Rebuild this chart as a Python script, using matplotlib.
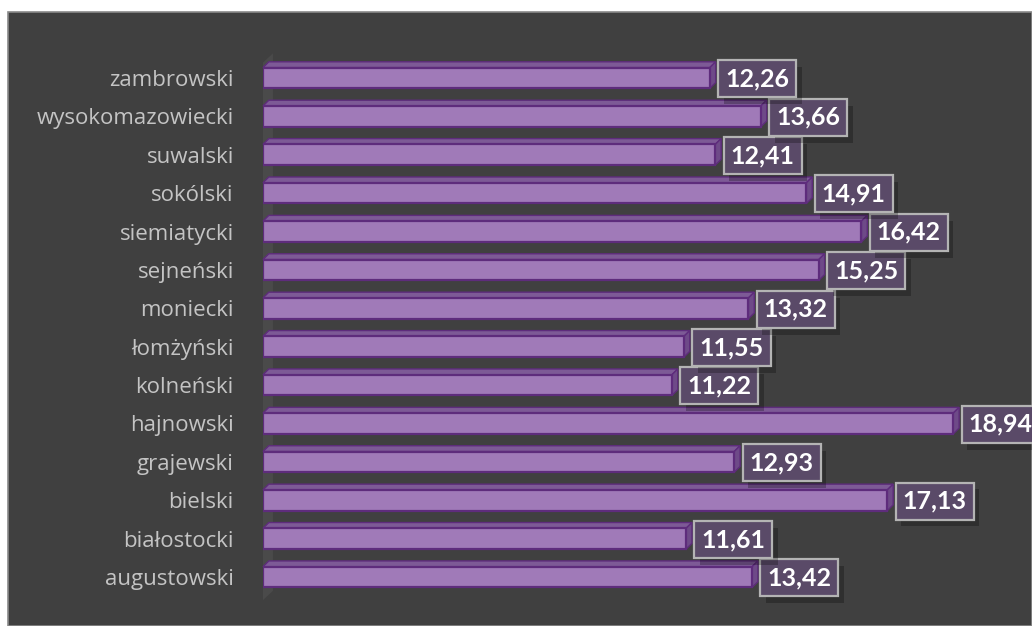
import matplotlib
matplotlib.use("Agg")
import matplotlib.pyplot as plt
from matplotlib.patches import Rectangle, Polygon
import matplotlib.patheffects as pe
import numpy as np

# data (bottom -> top as drawn)
powiaty = ['augustowski', 'białostocki', 'bielski', 'grajewski', 'hajnowski',
           'kolneński', 'łomżyński', 'moniecki', 'sejneński', 'siemiatycki',
           'sokólski', 'suwalski', 'wysokomazowiecki', 'zambrowski']
wartosci = [13.42, 11.61, 17.13, 12.93, 18.94, 11.22, 11.55, 13.32, 15.25, 16.42,
            14.91, 12.41, 13.66, 12.26]

BG = '#404040'
FRONT = '#a07ab8'
EDGE = '#5e2c7c'
TOP = '#7d5a96'
SIDE = '#6e4a88'

fig = plt.figure(figsize=(10.32, 6.26), dpi=100, facecolor='white')
fig.patches.append(Rectangle((8/1032, 0), 1 - 8/1032, (626-12)/626, transform=fig.transFigure,
                             facecolor=BG, edgecolor='#8a8a8a', lw=1.2, zorder=-5))

ax = fig.add_axes([263/1032, 0.023, 1 - 263/1032, 0.9077])
ax.set_facecolor('none')
ax.set_xlim(0, 21.1)
ax.set_ylim(-0.9, 13.9)

y = np.arange(len(powiaty))
h = 0.54
dx, dy = 0.16, 0.15

# back wall strip
ax.add_patch(Polygon([(0, -0.6), (0, 13.4), (dx*1.7, 13.4 + dy*1.6), (dx*1.7, -0.6 + dy*1.6)],
                     closed=True, facecolor='#4a4a4a', edgecolor='none', zorder=1, clip_on=False))

ax.barh(y, wartosci, height=h, color=FRONT, edgecolor=EDGE, linewidth=1.6, zorder=3)
for yi, v in zip(y, wartosci):
    t = yi + h/2
    ax.add_patch(Polygon([(0, t), (v, t), (v + dx, t + dy), (dx, t + dy)], closed=True,
                         facecolor=TOP, edgecolor=EDGE, lw=1.0, zorder=2, clip_on=False))
    ax.add_patch(Polygon([(v, t), (v + dx, t + dy), (v + dx, t + dy - h), (v, t - h)], closed=True,
                         facecolor=SIDE, edgecolor=EDGE, lw=1.0, zorder=2, clip_on=False))
    txt = ('%.2f' % v).replace('.', ',')
    lab = ax.text(v + 0.42, yi - 0.02, txt, ha='left', va='center', color='white', fontsize=18,
                  fontweight='bold', family='Lato', zorder=5, clip_on=False,
                  bbox=dict(boxstyle='square,pad=0.28', facecolor='#5a4a68', edgecolor='#b4b4b4', lw=1.6))
    lab.get_bbox_patch().set_path_effects([
        pe.SimplePatchShadow(offset=(4, -5), shadow_rgbFace='black', alpha=0.25), pe.Normal()])

ax.set_yticks(y)
ax.set_yticklabels(powiaty, fontsize=16, color='#c4c4c4', family='Open Sans')
ax.tick_params(axis='y', length=0, pad=21)
ax.set_xticks([])
for s in ax.spines.values():
    s.set_visible(False)

fig.savefig('out.png', dpi=100, facecolor='white')
